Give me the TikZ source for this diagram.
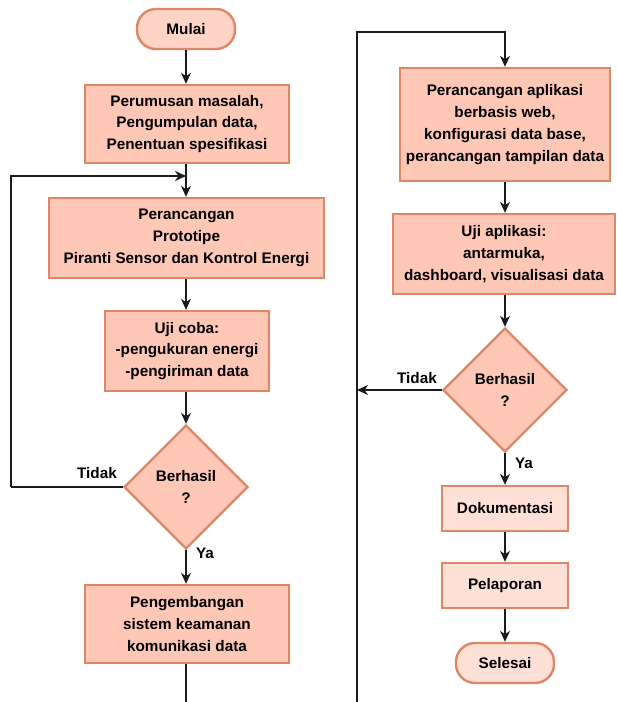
\documentclass[tikz,border=0pt]{standalone}
\usepackage{fontspec}
\setmainfont{Liberation Sans}
\usetikzlibrary{shapes.geometric,arrows.meta}
\definecolor{mainfill}{HTML}{FFC8B6}
\definecolor{startfill}{HTML}{FFD4C6}
\definecolor{lightfill}{HTML}{FFE0D6}
\definecolor{edge}{HTML}{DD8766}
\definecolor{conn}{HTML}{1A1A1A}
\begin{document}
\begin{tikzpicture}[x=1pt,y=-1pt,
  every node/.style={font=\bfseries\fontsize{15.3}{21.8}\selectfont, text=black},
  procbox/.style={draw=edge, line width=2.4pt, fill=mainfill, rectangle, inner sep=0pt, align=center},
  lightbox/.style={draw=edge, line width=2.4pt, fill=lightfill, rectangle, inner sep=0pt, align=center},
  termbox/.style={draw=edge, line width=2.4pt, rectangle, rounded corners=19pt, inner sep=0pt, minimum width=98pt, minimum height=40pt},
  decbox/.style={draw=edge, line width=2.4pt, fill=mainfill, diamond, inner sep=0pt, minimum width=124pt, minimum height=124pt, align=center},
  arr/.style={draw=conn, line width=1.3pt, -{Stealth[length=11pt,width=10pt,inset=3.5pt]}},
  ln/.style={draw=conn, line width=1.3pt},
  lbl/.style={font=\bfseries\fontsize{15.3}{17}\selectfont}]
\useasboundingbox (0,0) rectangle (617,702);
% left column
\node[termbox, fill=startfill] (mulai) at (186,29) {Mulai};
\node[procbox, minimum width=204pt, minimum height=78pt] (b1) at (187,124) {Perumusan masalah,\\Pengumpulan data,\\Penentuan spesifikasi};
\node[procbox, minimum width=275pt, minimum height=80pt] (b2) at (186.5,238) {Perancangan\\Prototipe\\Piranti Sensor dan Kontrol Energi};
\node[procbox, minimum width=164pt, minimum height=80pt] (b3) at (187,351) {Uji coba:\\-pengukuran energi\\-pengiriman data};
\node[decbox] (d1) at (186,487) {Berhasil\\?};
\node[procbox, minimum width=204pt, minimum height=78pt] (b4) at (187,624) {Pengembangan\\sistem keamanan\\komunikasi data};
\coordinate (j1) at (186,176);
\coordinate (l1) at (11,487);
\coordinate (l2) at (11,176);
\coordinate (e1) at (186,702);
\draw[arr] (mulai) -- (b1.north -| mulai);
\draw[arr] (b1.south -| mulai) -- (b2.north -| mulai);
\draw[arr] (l1) -- (l2) -- (j1);
\draw[ln] (d1.west) -- (l1);
\draw[arr] (b2.south -| mulai) -- (b3.north -| mulai);
\draw[arr] (b3.south -| mulai) -- (d1.north);
\draw[arr] (d1.south) -- (b4.north -| d1);
\draw[ln] (b4.south -| d1) -- (e1);
\node[lbl] (t1) at (97,473) {Tidak};
\node[lbl] (y1) at (205,553) {Ya};
% right column
\node[procbox, minimum width=210pt, minimum height=113pt] (b5) at (505,124.5) {Perancangan aplikasi\\berbasis web,\\konfigurasi data base,\\perancangan tampilan data};
\node[procbox, minimum width=222pt, minimum height=80pt] (b6) at (504,254) {Uji aplikasi:\\antarmuka,\\dashboard, visualisasi data};
\node[decbox] (d2) at (505,390) {Berhasil\\?};
\node[lightbox, minimum width=126pt, minimum height=45pt] (b7) at (505,508.5) {Dokumentasi};
\node[lightbox, minimum width=126pt, minimum height=45pt] (b8) at (505,585.5) {Pelaporan};
\node[termbox, fill=lightfill] (selesai) at (505,663) {Selesai};
\coordinate (r0) at (357,702);
\coordinate (r1) at (357,32);
\coordinate (r2) at (505,32);
\coordinate (rt) at (357,390);
\draw[arr] (r0) -- (r1) -- (r2) -- (b5.north -| r2);
\draw[arr] (b5.south -| r2) -- (b6.north -| r2);
\draw[arr] (b6.south -| r2) -- (d2.north);
\draw[arr] (d2.west) -- (rt);
\draw[arr] (d2.south) -- (b7.north);
\draw[arr] (b7.south) -- (b8.north);
\draw[arr] (b8.south) -- (selesai.north);
\node[lbl] (t2) at (417,378) {Tidak};
\node[lbl] (y2) at (524,463) {Ya};
\end{tikzpicture}
\end{document}
